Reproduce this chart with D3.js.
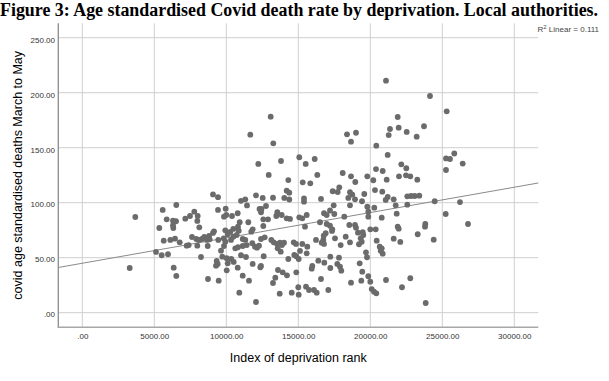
<!DOCTYPE html>
<html><head><meta charset="utf-8">
<script src="https://cdn.jsdelivr.net/npm/d3@7"></script>
<style>
html,body{margin:0;padding:0;background:#fff;}
svg{display:block;}
</style></head>
<body>
<svg id="chart" width="609" height="381"></svg>
<script>
const deprivationRank = [13083,11667,13264,15069,13799,12222,12944,14306,
14194,14375,9076,9424,12062,12528,13243,11021,11319,11437,14028,14375,6528,5583,9424,9958,12757,12306,12444,12410,3681,3292,5347,5861,6299,6507,6299,6319,7153,7479,7778,8014,7986,8125,10000,9840,10396,10792,13542,13472,13847,14194,14424,15069,15583,15278,10931,11528,10486,10812,10861,9931,10278,10097,9076,8799,9146,11736,11833,12569,12896,12569,7618,7917,8083,8312,8472,8660,8847,5653,6111,6437,6764,7250,7389,7986,8708,9444,9819,9931,10326,10486,10722,11139,11319,11806,11993,12410,12667,9840,9632,10625,10812,11139,11417,13125,13292,13521,13729,13868,14007,13569,13778,12132,12271,14681,14840,5118,5514,5951,8243,9722,10028,10347,10514,10097,9333,9285,9403,11021,11368,11833,12410,12361,10792,11139,11576,10028,8729,9472,6347,6528,10903,12062,12597,14306,14722,14861,15028,13590,13917,14215,13403,13243,14861,15000,15028,13708,14542,
21090,24146,25306,21903,21368,21972,22528,23729,21278,23222,18382,19007,18660,20417,21208,16139,15514,16319,15306,15833,25257,25535,25833,26417,25257,18083,18660,18958,19792,20396,20861,21139,20208,22153,22500,21993,22479,22778,23264,17847,
20326,20833,17389,17736,18590,18750,18472,18938,19583,19424,21208,21069,21625,22569,22826,23083,23403,24472,26229,17458,18590,19792,20278,21764,22569,17201,15396,15396,16576,
15465,16785,17500,16972,18194,19861,19861,20792,21833,25236,26785,23819,23799,23292,24403,21903,21972,21625,22083,15278,15625,15118,15583,16507,16972,17201,17361,17340,16903,16764,16736,16785,16229,16625,17549,17944,18292,18590,18542,18938,19007,19146,19472,19514,19333,19403,19215,20000,20375,20444,20653,20792,20722,20861,19701,19771,19264,19444,19375,19861,20000,20097,20257,20417,18660,21090,22778,22201,23847,15972,15931,16389,16806,17222,17222,17826,17708,17896,17986,16576,15535,15743,16090,16278,17083];

const deathRate = [178.2,161.8,154.0,141.3,137.9,135.2,125.2,120.6,
110.9,109.1,107.5,105.0,106.7,104.3,104.5,101.7,103.1,97.5,104.3,102.9,97.9,93.4,93.4,94.5,97.0,94.3,94.3,91.3,87.0,40.6,77.0,84.9,83.6,83.1,79.5,77.0,85.5,87.9,91.8,87.9,83.4,77.6,88.8,87.3,87.9,90.4,91.3,87.9,88.8,85.8,85.2,86.7,88.8,85.8,82.2,82.2,76.1,78.2,74.5,74.9,73.4,71.3,72.5,69.7,74.0,73.6,75.8,78.8,84.9,84.9,68.8,67.0,66.1,67.0,68.8,66.1,66.7,65.5,66.1,67.3,64.0,60.9,61.5,60.9,60.6,66.1,67.6,64.5,66.1,69.1,70.6,67.0,66.1,63.1,60.0,67.0,68.5,60.6,56.4,58.5,59.5,60.6,61.5,66.1,64.0,62.5,63.6,61.5,63.6,58.5,55.5,59.1,60.9,64.0,62.5,55.2,52.2,53.1,50.6,50.9,49.5,48.8,46.1,44.9,47.0,42.7,44.3,52.2,50.6,44.3,42.5,41.3,40.9,33.6,29.1,38.5,30.6,29.1,40.9,33.4,18.2,9.7,51.3,48.8,52.5,51.3,48.8,38.8,36.7,34.0,31.8,27.0,36.7,23.1,16.4,17.3,18.2,
210.9,197.0,183.1,177.9,167.0,168.2,164.3,169.5,161.5,160.0,162.2,163.6,155.5,151.8,143.4,139.7,135.2,125.2,118.5,117.6,140.2,139.7,144.7,135.6,129.7,127.0,124.0,118.8,124.0,130.6,128.8,120.9,120.4,134.9,131.3,124.0,124.9,124.0,120.9,114.0,
111.5,110.0,110.4,109.7,109.5,107.3,104.3,103.1,107.9,101.3,105.2,102.5,103.1,105.8,106.1,106.1,106.4,101.3,100.6,97.6,97.6,96.4,95.5,97.6,98.2,92.9,103.8,100.9,103.4,
78.2,90.4,89.7,88.8,87.3,91.8,87.3,86.4,90.0,89.7,80.6,80.6,78.2,71.3,66.4,78.2,76.4,67.3,64.3,62.5,60.0,56.1,54.0,82.2,80.6,79.1,75.8,74.3,72.2,70.0,66.1,62.5,66.1,63.6,67.6,61.5,69.1,64.0,79.7,79.7,77.3,72.7,73.1,70.6,67.6,64.5,62.2,75.8,75.8,65.5,60.0,58.5,56.4,53.6,54.9,50.4,44.9,37.3,29.1,33.1,28.2,21.5,19.1,17.6,27.3,29.7,31.3,23.1,8.8,42.5,40.0,47.3,45.5,50.9,40.6,50.0,44.3,41.8,38.2,30.6,23.6,20.6,20.6,18.2,20.6];

const xTicks = [0, 5000, 10000, 15000, 20000, 25000, 30000];
const xTickLabels = [".00", "5000.00", "10000.00", "15000.00", "20000.00", "25000.00", "30000.00"];
const yTicks = [0, 50, 100, 150, 200, 250];
const yTickLabels = [".00", "50.00", "100.00", "150.00", "200.00", "250.00"];
const xDomain = [-1667, 31667];
const yDomain = [-13.3, 263.1];
const fitIntercept = 44.94;
const fitSlope = 0.002304;
const rSquaredText = "0.111";

const titleText = "Figure 3: Age standardised Covid death rate by deprivation. Local authorities.";
const xTitle = "Index of deprivation rank";
const yTitle = "covid age standardised deaths March to May";

(function () {
const svg = d3.select("#chart");
const pLeft = 58.3, pRight = 538.3, pTop = 23.3, pBottom = 327.3;
const x = d3.scaleLinear().domain(xDomain).range([pLeft, pRight]);
const y = d3.scaleLinear().domain(yDomain).range([pBottom, pTop]);
const sans = "'Liberation Sans', Arial, sans-serif";

svg.append("text").attr("x", 0).attr("y", 16)
  .attr("font-family", "'Liberation Serif','Times New Roman',serif")
  .attr("font-weight", "bold").attr("font-size", 17.9).attr("fill", "#000")
  .text(titleText);

const grid = svg.append("g");
grid.selectAll("line.v").data(xTicks).join("line").attr("class", "v")
  .attr("x1", d => x(d)).attr("x2", d => x(d))
  .attr("y1", pTop).attr("y2", pBottom)
  .attr("stroke", "#cfcfcf").attr("stroke-width", 1);
grid.selectAll("line.h").data(yTicks).join("line").attr("class", "h")
  .attr("x1", pLeft).attr("x2", pRight)
  .attr("y1", d => y(d)).attr("y2", d => y(d))
  .attr("stroke", "#cfcfcf").attr("stroke-width", 1);

const xAxis = d3.axisBottom(x).tickValues(xTicks).tickSize(0).tickPadding(0)
  .tickFormat((d, i) => xTickLabels[i]);
const gx = svg.append("g").attr("transform", `translate(0,${pBottom})`).call(xAxis);
gx.select(".domain").remove();
gx.selectAll("text").attr("font-family", sans).attr("font-size", 8).attr("fill", "#333")
  .attr("y", 12).attr("dy", 0);

const yAxis = d3.axisLeft(y).tickValues(yTicks).tickSize(0).tickPadding(0)
  .tickFormat((d, i) => yTickLabels[i]);
const gy = svg.append("g").attr("transform", `translate(55,0)`).call(yAxis);
gy.select(".domain").remove();
gy.selectAll("text").attr("font-family", sans).attr("font-size", 8).attr("fill", "#333")
  .attr("x", 0).attr("dy", 0).attr("y", 4.3);

svg.append("line").attr("x1", pLeft).attr("x2", pLeft).attr("y1", pTop).attr("y2", pBottom + 0.7)
  .attr("stroke", "#8c8c8c").attr("stroke-width", 1.3);
svg.append("line").attr("x1", pLeft).attr("x2", pRight).attr("y1", pBottom).attr("y2", pBottom)
  .attr("stroke", "#a8a8a8").attr("stroke-width", 1.6);

const fitLine = d3.line().x(d => x(d)).y(d => y(fitIntercept + fitSlope * d));
svg.append("path").datum(xDomain).attr("d", fitLine)
  .attr("fill", "none").attr("stroke", "#8a8a8a").attr("stroke-width", 1);

svg.append("g").selectAll("circle").data(deprivationRank).join("circle")
  .attr("cx", d => x(d)).attr("cy", (d, i) => y(deathRate[i]))
  .attr("r", 2.9).attr("fill", "#6b6b6b");

const r2 = svg.append("text").attr("x", 537.5).attr("y", 32)
  .attr("font-family", sans).attr("font-size", 8).attr("fill", "#444");
r2.append("tspan").text("R");
r2.append("tspan").attr("font-size", 6).attr("dy", -3).text("2");
r2.append("tspan").attr("dy", 3).text(" Linear = " + rSquaredText);

svg.append("text").attr("x", (pLeft + pRight) / 2).attr("y", 362)
  .attr("text-anchor", "middle").attr("font-family", sans).attr("font-size", 12.5).attr("fill", "#000")
  .text(xTitle);
svg.append("text").attr("transform", `translate(22,${(pTop + pBottom) / 2}) rotate(-90)`)
  .attr("text-anchor", "middle").attr("font-family", sans).attr("font-size", 12.5).attr("fill", "#000")
  .text(yTitle);
})();
</script>
</body></html>
